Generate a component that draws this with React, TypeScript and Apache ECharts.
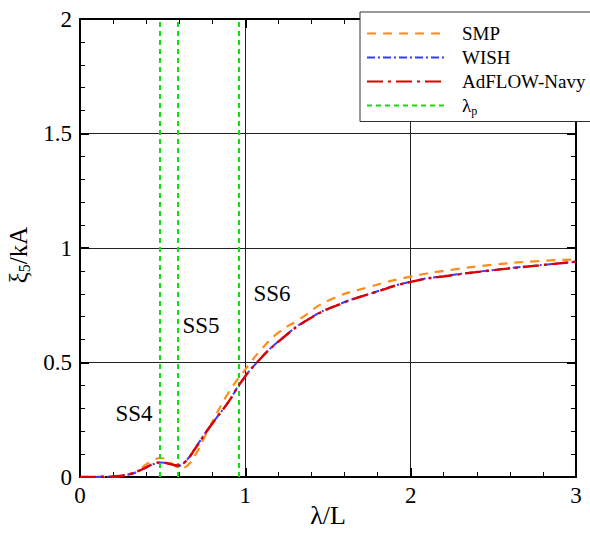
import React, { useEffect, useRef } from "react";
import * as echarts from "echarts";

const smpX = [0, 0.2, 0.3, 0.35, 0.4, 0.45, 0.49, 0.53, 0.57, 0.61, 0.65, 0.7, 0.75, 0.8, 0.9, 1.0, 1.1, 1.2, 1.33, 1.5, 1.75, 2.0, 2.25, 2.5, 2.75, 3.0];
const smpY = [0, 0.002, 0.012, 0.025, 0.055, 0.075, 0.083, 0.072, 0.05, 0.04, 0.05, 0.1, 0.17, 0.24, 0.37, 0.47, 0.56, 0.63, 0.69, 0.77, 0.83, 0.875, 0.905, 0.927, 0.942, 0.95];

const wishX = [0, 0.2, 0.3, 0.38, 0.44, 0.49, 0.54, 0.59, 0.64, 0.7, 0.77, 0.83, 0.9, 0.97, 1.07, 1.21, 1.39, 1.58, 1.76, 2.0, 2.25, 2.5, 2.75, 3.0];
const wishY = [0, 0.002, 0.012, 0.034, 0.055, 0.063, 0.058, 0.049, 0.07, 0.13, 0.205, 0.263, 0.33, 0.41, 0.5, 0.598, 0.693, 0.758, 0.802, 0.853, 0.882, 0.904, 0.923, 0.94];

const adflowX = [0, 0.2, 0.3, 0.38, 0.44, 0.49, 0.54, 0.59, 0.64, 0.7, 0.77, 0.83, 0.9, 0.97, 1.07, 1.21, 1.39, 1.58, 1.76, 2.0, 2.25, 2.5, 2.75, 3.0];
const adflowY = [0, 0.002, 0.013, 0.035, 0.056, 0.064, 0.058, 0.05, 0.069, 0.128, 0.203, 0.262, 0.33, 0.41, 0.5, 0.597, 0.692, 0.757, 0.801, 0.852, 0.881, 0.903, 0.922, 0.94];

const lambdaP = [0.485, 0.59, 0.96];

const xTicks = [0, 1, 2, 3];
const stateLabels = [
  { text: "SS4", x: 134, y: 413 },
  { text: "SS5", x: 201, y: 325 },
  { text: "SS6", x: 272, y: 293 },
];

const FONT = "Liberation Serif";

const zip = (xs: number[], ys: number[]) => xs.map((x, i) => [x, ys[i]]);

export default function App() {
  const ref = useRef<HTMLDivElement>(null);
  useEffect(() => {
    if (!ref.current) return;
    const chart = echarts.init(ref.current, undefined, { renderer: "svg" });
    const axisCommon = {
      axisLine: { show: true, onZero: false, lineStyle: { color: "#000", width: 2 } },
      axisTick: { show: true, inside: true, length: 9, lineStyle: { color: "#000", width: 2 } },
      minorTick: { show: true, splitNumber: 5, length: 5, lineStyle: { color: "#000", width: 1 } },
    };
    chart.setOption({
      animation: false,
      backgroundColor: "#fff",
      textStyle: { fontFamily: FONT, color: "#000" },
      grid: { left: 80, right: 14, top: 19, bottom: 57, outerBoundsMode: "none", containLabel: false },
      legend: {
        orient: "vertical",
        left: 360,
        top: 12,
        padding: [12, 8, 5, 6],
        backgroundColor: "#fff",
        borderColor: "#333",
        borderWidth: 1,
        borderRadius: 0,
        itemWidth: 78,
        itemHeight: 14,
        itemGap: 5,
        itemStyle: { opacity: 0 },
        textStyle: {
          fontFamily: FONT,
          fontSize: 19,
          color: "#000",
          padding: [0, 0, 0, 12],
          rich: {
            l: { fontFamily: FONT, fontSize: 19, color: "#000" },
            s: { fontFamily: FONT, fontSize: 12, color: "#000", verticalAlign: "bottom", padding: [10, 0, 0, 0] },
          },
        },
        formatter: (name: string) => (name === "λp" ? "{l|λ}{s|p}" : name),
        data: ["SMP", "WISH", "AdFLOW-Navy", "λp"],
      },
      xAxis: [
        {
          type: "value",
          min: 0,
          max: 3,
          interval: 1,
          name: "λ/L",
          nameLocation: "middle",
          nameGap: 25,
          nameMoveOverlap: false,
          nameTextStyle: { fontFamily: FONT, fontSize: 26, color: "#000" },
          ...axisCommon,
          axisLabel: { fontFamily: FONT, fontSize: 23, color: "#000", margin: 7,
            formatter: (v: number) => (xTicks.includes(v) ? String(v) : "") },
          splitLine: { show: true, lineStyle: { color: "#222", width: 1 } },
        },
        {
          type: "value",
          min: 0,
          max: 3,
          interval: 1,
          position: "top",
          ...axisCommon,
          axisLabel: { show: false },
          splitLine: { show: false },
        },
      ],
      yAxis: [
        {
          type: "value",
          min: 0,
          max: 2,
          interval: 0.5,
          name: "{a|ξ}{b|5}{a|/kA}",
          nameLocation: "middle",
          nameGap: 48,
          nameRotate: 90,
          nameMoveOverlap: false,
          nameTextStyle: {
            padding: [0, 14, 0, 0],
            rich: {
              a: { fontFamily: FONT, fontSize: 25, color: "#000" },
              b: { fontFamily: FONT, fontSize: 16, color: "#000", verticalAlign: "bottom", padding: [12, 0, 0, 0] },
            },
          },
          ...axisCommon,
          axisLabel: { fontFamily: FONT, fontSize: 23, color: "#000", margin: 8 },
          splitLine: { show: true, lineStyle: { color: "#222", width: 1 } },
        },
        {
          type: "value",
          min: 0,
          max: 2,
          interval: 0.5,
          position: "right",
          ...axisCommon,
          axisLabel: { show: false },
          splitLine: { show: false },
        },
      ],
      series: [
        {
          name: "SMP",
          type: "line",
          data: zip(smpX, smpY),
          smooth: 0.5,
          symbol: "none",
          lineStyle: { color: "#ff8c1a", width: 2.2, type: [9, 7] },
          itemStyle: { color: "#ff8c1a" },
          z: 3,
        },
        {
          name: "WISH",
          type: "line",
          data: zip(wishX, wishY),
          smooth: 0.5,
          symbol: "none",
          lineStyle: { color: "#3a3aff", width: 2, type: [8, 3, 2, 3] },
          itemStyle: { color: "#3a3aff" },
          z: 4,
        },
        {
          name: "AdFLOW-Navy",
          type: "line",
          data: zip(adflowX, adflowY),
          smooth: 0.5,
          symbol: "none",
          lineStyle: { color: "#dd0000", width: 2.4, type: [16, 5, 3, 5] },
          itemStyle: { color: "#dd0000" },
          z: 5,
        },
        {
          name: "λp",
          type: "line",
          data: [],
          symbol: "none",
          lineStyle: { color: "#11dd11", width: 2, type: [5, 4] },
          itemStyle: { color: "#11dd11" },
          markLine: {
            silent: true,
            symbol: ["none", "none"],
            label: { show: false },
            lineStyle: { color: "#11dd11", width: 2, type: [5, 4] },
            data: lambdaP.map((v) => ({ xAxis: v })),
          },
          z: 2,
        },
      ],
      graphic: stateLabels.map((s) => ({
        type: "text",
        x: s.x,
        y: s.y,
        style: {
          text: s.text,
          fontFamily: FONT,
          fontSize: 23,
          fill: "#000",
          align: "center",
          verticalAlign: "middle",
        },
        z: 10,
      })),
    });
    return () => chart.dispose();
  }, []);
  return <div ref={ref} style={{ position: "fixed", left: 0, top: 0, width: 590, height: 534 }} />;
}
